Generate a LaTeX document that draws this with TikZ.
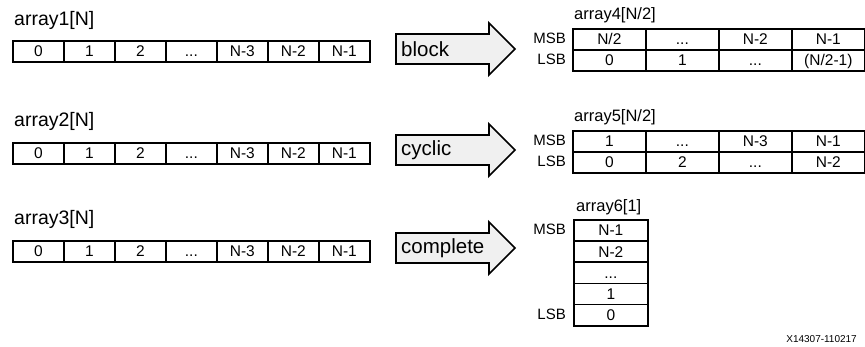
\documentclass[tikz,border=0pt]{standalone}
\usepackage{fontspec}
\setmainfont{Liberation Sans}
\definecolor{arrowgray}{HTML}{F0F0F0}
\newcommand\ellip{...}
% big hollow arrow with a label: #1 = centre y, #2 = node name, #3 = text
\newcommand\partarrow[3]{%
  \path[partshape] (396,#1-15) -- (489,#1-15) -- (489,#1-26) -- (515,#1)
    -- (489,#1+26) -- (489,#1+15) -- (396,#1+15) -- cycle;
  \node[arrowtext] (#2) at (401,#1) {#3};
}
\begin{document}
\begin{tikzpicture}[x=1pt,y=-1pt,
  cell/.style={draw=black, line width=1.7pt, minimum height=21pt,
    inner sep=0pt, anchor=north west, text height=11pt, text depth=0pt,
    font=\fontsize{15.5}{15.5}\selectfont},
  wide/.style={cell, minimum width=51pt},
  widecol/.style={cell, minimum width=73pt},
  arrname/.style={anchor=west, inner sep=0pt, font=\fontsize{19.5}{19.5}\selectfont},
  partname/.style={anchor=west, inner sep=0pt, font=\fontsize{16.5}{16.5}\selectfont},
  bitlabel/.style={anchor=east, inner sep=0pt, font=\fontsize{15}{15}\selectfont},
  partshape/.style={draw=black, line width=1.7pt, fill=arrowgray, line join=miter},
  arrowtext/.style={anchor=west, inner sep=0pt, font=\fontsize{20.5}{20.5}\selectfont},
]
\useasboundingbox (0,0) rectangle (865,347);

% source arrays
\node[arrname] (n1) at (14,20) {array1[N]};
\node[arrname] (n2) at (14,121) {array2[N]};
\node[arrname] (n3) at (14,219) {array3[N]};
\foreach \t [count=\i from 0] in {0,1,2,\ellip,N-3,N-2,N-1}{
  \node[wide] (a1c\i) at (12+51*\i,40) {\t};
  \node[wide] (a2c\i) at (12+51*\i,142) {\t};
  \node[wide] (a3c\i) at (12+51*\i,240) {\t};
}

% partitioning arrows
\partarrow{49}{pblock}{block}
\partarrow{150}{pcyclic}{cyclic}
\partarrow{248}{pcomplete}{complete}

% block partition
\node[partname] (n4) at (574,15) {array4[N/2]};
\node[bitlabel] (m4) at (566,38.5) {MSB};
\node[bitlabel] (l4) at (566,59.5) {LSB};
\foreach \t [count=\i from 0] in {N/2,\ellip,N-2,N-1}{
  \node[widecol] (a4m\i) at (572+73*\i,28) {\t};
}
\foreach \t [count=\i from 0] in {0,1,\ellip,(N/2-1)}{
  \node[widecol] (a4l\i) at (572+73*\i,49) {\t};
}

% cyclic partition
\node[partname] (n5) at (574,117) {array5[N/2]};
\node[bitlabel] (m5) at (566,140.5) {MSB};
\node[bitlabel] (l5) at (566,161.5) {LSB};
\foreach \t [count=\i from 0] in {1,\ellip,N-3,N-1}{
  \node[widecol] (a5m\i) at (572+73*\i,130) {\t};
}
\foreach \t [count=\i from 0] in {0,2,\ellip,N-2}{
  \node[widecol] (a5l\i) at (572+73*\i,151) {\t};
}

% complete partition
\node[partname] (n6) at (576,207) {array6[1]};
\node[bitlabel] (m6) at (566,229) {MSB};
\node[bitlabel] (l6) at (566,314) {LSB};
\foreach \t [count=\i from 0] in {N-1,N-2,\ellip,1,0}{
  \node[cell, minimum width=74pt, minimum height=21.2pt] (a6r\i) at (573,219+21.2*\i) {\t};
}

\node[anchor=east, inner sep=0pt, font=\fontsize{10}{10}\selectfont] (fig) at (857,339) {X14307-110217};
\end{tikzpicture}
\end{document}
